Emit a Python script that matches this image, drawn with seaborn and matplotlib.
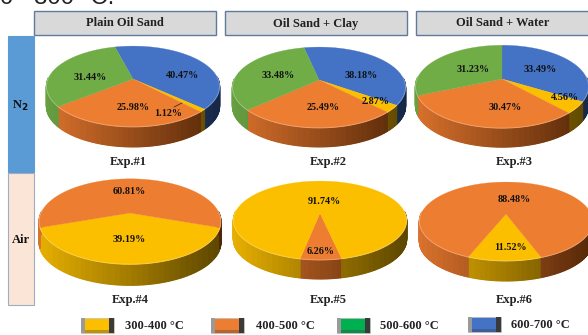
import numpy as np
import matplotlib
matplotlib.use("Agg")
import matplotlib.pyplot as plt
from matplotlib.patches import Rectangle
import seaborn as sns

# Values, clockwise from the start angle
exp_names = ["Exp.#1", "Exp.#2", "Exp.#3", "Exp.#4", "Exp.#5", "Exp.#6"]
exp1_values = [40.47, 1.12, 25.98, 31.44]
exp2_values = [38.18, 2.87, 25.49, 33.48]
exp3_values = [33.49, 4.56, 30.47, 31.23]
exp4_values = [39.19, 60.81]
exp5_values = [6.26, 91.74]
exp6_values = [11.52, 88.48]

top_groups = ["Plain Oil Sand", "Oil Sand + Clay", "Oil Sand + Water"]
atmospheres = ["N$_\\mathbf{2}$", "Air"]
legend_labels = ["300-400 °C", "400-500 °C", "500-600 °C", "600-700 °C"]

YELLOW, ORANGE, GREEN, BLUE = "#fcbf00", "#ed7d31", "#70ad47", "#4472c4"

sns.set_theme(style="white")
plt.rcParams["font.family"] = ["Liberation Serif", "DejaVu Serif"]
plt.rcParams["font.weight"] = "bold"


def project(theta, cx, cy, sx, sy, k):
    # theta is clockwise from the back of the disc, k gives the perspective
    u, v = np.sin(theta), -np.cos(theta)
    w = 1 - k * v
    return cx + sx * u / w, cy + sy * v / w


def draw_pie(ax, values, colors, start, cx, cy, sx, sy, k, depth):
    frac = np.array(values) / np.sum(values)
    edges = np.radians(start) + 2 * np.pi * np.r_[0, np.cumsum(frac)]
    left, right = cx - sx, cx + sx
    for a, b, c in zip(edges[:-1], edges[1:], colors):
        n = max(int((b - a) * 60), 2)
        th = np.linspace(a, b, n + 1)
        x, y = project(th, cx, cy, sx, sy, k)
        # rim, shaded from left to right
        ramp = sns.blend_palette([c, sns.set_hls_values(c, l=0.17)], 40)
        for i in range(n):
            if np.cos((th[i] + th[i + 1]) / 2) > 0.05:
                continue
            pos = ((x[i] + x[i + 1]) / 2 - left) / (right - left)
            col = ramp[int(np.clip(0.15 + pos * 0.8, 0, 0.99) * 40)]
            ax.fill([x[i], x[i + 1], x[i + 1], x[i]],
                    [y[i], y[i + 1], y[i + 1] + depth, y[i] + depth],
                    fc=col, ec=col, lw=0.9, zorder=2)
    for a, b, c in zip(edges[:-1], edges[1:], colors):
        th = np.linspace(a, b, max(int((b - a) * 60), 2) + 1)
        x, y = project(th, cx, cy, sx, sy, k)
        ax.fill(np.r_[cx, x], np.r_[cy, y], fc=c, ec=c, lw=0.2, zorder=3)
        front = np.cos(th) < 0.05
        ax.plot(np.where(front, x, np.nan), y, lw=0.7, zorder=4,
                color=sns.light_palette(c, 4, reverse=True)[1])


fig = plt.figure(figsize=(5.88, 3.35), dpi=100)
ax = fig.add_axes([0, 0, 1, 1])
ax.set_xlim(0, 588)
ax.set_ylim(335, 0)
ax.axis("off")

# cut off line of text above the panel
ax.text(0, 3.5, "0 ~300 °C.", family="Liberation Sans", weight="normal", fontsize=17.3,
        va="baseline", clip_on=True, color="#222222")

# header boxes
for name, x0, x1 in zip(top_groups, [34, 225, 416], [216, 407, 590]):
    ax.add_patch(Rectangle((x0, 11), x1 - x0, 24, fc="#d9d9d9", ec="#5f7a9c", lw=1))
    ax.text((x0 + x1) / 2, 23.5, name, ha="center", va="center", fontsize=9, color="#222222")

# atmosphere boxes
ax.add_patch(Rectangle((8, 36), 26, 136, fc="#5b9bd5", ec="#5b9bd5", lw=0.8))
ax.add_patch(Rectangle((8, 173), 26, 132, fc="#fbe5d6", ec="#a3abc4", lw=0.8))
ax.text(20.5, 106, atmospheres[0], ha="center", va="center", fontsize=9, color="#111111")
ax.text(20.5, 240, atmospheres[1], ha="center", va="center", fontsize=9, color="#111111")

# pies
c4 = [BLUE, YELLOW, ORANGE, GREEN]
draw_pie(ax, exp1_values, c4, -14.5, 133, 79, 85, 39, 0.185, 20)
draw_pie(ax, exp2_values, c4, -12, 319, 80, 85, 39, 0.185, 19)
draw_pie(ax, exp3_values, c4, 0, 502, 79, 85, 40, 0.185, 19)
draw_pie(ax, exp4_values, [YELLOW, ORANGE], 109.5, 130, 213, 89, 41, 0.2, 21)
draw_pie(ax, exp5_values, [ORANGE, YELLOW], 168, 320, 213, 85, 38, 0.19, 19)
draw_pie(ax, exp6_values, [YELLOW, ORANGE], 160, 506, 214, 85, 38, 0.19, 20)

# slice labels
label_pos = [
    (exp1_values, [(182, 76), (168, 113), (133, 107), (90, 77)]),
    (exp2_values, [(361, 75), (376, 102), (323, 107), (278, 75)]),
    (exp3_values, [(540, 69), (565, 97), (505, 107), (473, 70)]),
    (exp4_values, [(129, 240), (129, 192)]),
    (exp5_values, [(321, 251), (324, 201)]),
    (exp6_values, [(510, 248), (514, 200)]),
]
for vals, spots in label_pos:
    for v, (x, y) in zip(vals, spots):
        ax.text(x, y, f"{v:.2f}%", ha="center", va="center", fontsize=7.3, color="#111111", zorder=6)
ax.plot([174, 182], [107, 103], color="#222222", lw=0.5, zorder=6)

# experiment names
name_x = [128, 328, 514, 130, 328, 514]
name_y = [162, 162, 162, 300, 300, 300]
for name, x, y in zip(exp_names, name_x, name_y):
    ax.text(x, y, name, ha="center", va="center", fontsize=9, color="#222222")

# legend swatches
swatch_x = [81, 211, 337, 468]
swatch_y = [318, 318, 318, 317]
text_x = [125, 256, 380, 511]
for label, x, y, tx, c in zip(legend_labels, swatch_x, swatch_y, text_x, [YELLOW, ORANGE, "#00b050", BLUE]):
    shade = sns.blend_palette([c, "#3a3a3a"], 4)
    ax.add_patch(Rectangle((x, y), 33, 15, fc=c, ec="#bbbbbb", lw=0.5))
    ax.add_patch(Rectangle((x, y), 4, 15, fc="#9a9a9a", ec="none"))
    ax.add_patch(Rectangle((x + 28, y), 5, 15, fc=shade[3], ec="none"))
    ax.add_patch(Rectangle((x + 4, y + 12), 24, 3, fc=shade[1], ec="none"))
    ax.text(tx, y + 8, label, va="center", fontsize=9, color="#222222")

fig.savefig("out.png", dpi=100)
